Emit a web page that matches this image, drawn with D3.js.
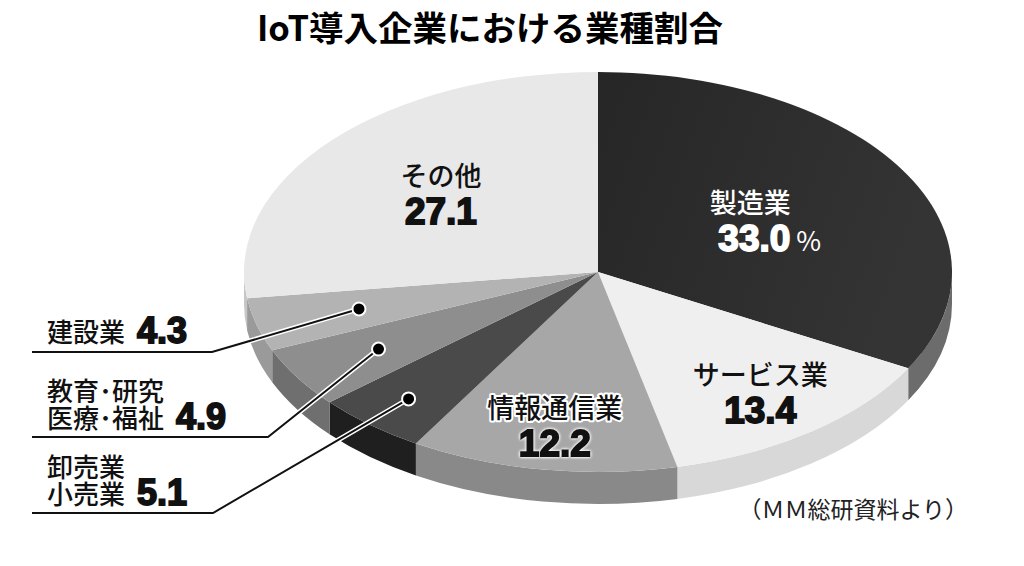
<!DOCTYPE html>
<html>
<head>
<meta charset="utf-8">
<script src="https://cdn.jsdelivr.net/npm/d3@7"></script>
<style>
  body { margin: 0; background: #fff; }
  text { font-family: "Noto Sans CJK JP", sans-serif; }
  .num { font-family: "Liberation Sans", Arial, sans-serif; font-weight: 700; }
</style>
</head>
<body>
<script>
var width = 1024;
var height = 566;

// data
var names = ["製造業", "サービス業", "情報通信業", "卸売業・小売業", "教育・研究・医療・福祉", "建設業", "その他"];
var values = [33.0, 13.4, 12.2, 5.1, 4.9, 4.3, 27.1];
var valueLabels = ["33.0", "13.4", "12.2", "5.1", "4.9", "4.3", "27.1"];
var labelLines = [["製造業"], ["サービス業"], ["情報通信業"], ["卸売業", "小売業"], ["教育･研究", "医療･福祉"], ["建設業"], ["その他"]];

var topColors  = ["#2c2c2c", "#efefef", "#a7a7a7", "#4a4a4a", "#8e8e8e", "#b3b3b3", "#e8e8e8"];
var sideColors = ["#6c6c6c", "#d8d8d8", "#898989", "#1f1f1f", "#6f6f6f", "#9a9a9a", "#c6c6c6"];

var cx = 598, cy = 272, rx = 354, ry = 200, depth = 32;

var svg = d3.select("body").append("svg")
  .attr("width", width)
  .attr("height", height);

var defs = svg.append("defs");
var g0 = defs.append("linearGradient").attr("id", "g0")
  .attr("x1", "0").attr("y1", "0").attr("x2", "1").attr("y2", "0.3");
g0.append("stop").attr("offset", "0").attr("stop-color", "#262626");
g0.append("stop").attr("offset", "1").attr("stop-color", "#343434");

var pie = d3.pie().sort(null).startAngle(0).endAngle(2 * Math.PI);
var arcs = pie(values);

function pt(a, f, dy) {
  f = f == null ? 1 : f;
  return [cx + rx * f * Math.sin(a), cy - ry * f * Math.cos(a) + (dy || 0)];
}

function topPath(d) {
  var p0 = pt(d.startAngle), p1 = pt(d.endAngle);
  var large = d.endAngle - d.startAngle > Math.PI ? 1 : 0;
  return "M" + cx + "," + cy + "L" + p0 + "A" + rx + "," + ry + " 0 " + large + " 1 " + p1 + "Z";
}

function sidePath(d) {
  var s = Math.max(d.startAngle, Math.PI / 2);
  var e = Math.min(d.endAngle, 3 * Math.PI / 2);
  if (e <= s) return null;
  var p0 = pt(s), p1 = pt(e), q0 = pt(s, 1, depth), q1 = pt(e, 1, depth);
  return "M" + p0 + "A" + rx + "," + ry + " 0 0 1 " + p1 +
    "L" + q1 + "A" + rx + "," + ry + " 0 0 0 " + q0 + "Z";
}

// side walls
svg.append("g").selectAll("path")
  .data(arcs.filter(function(d) { return sidePath(d); }))
  .enter().append("path")
  .attr("d", sidePath)
  .attr("fill", function(d) { return sideColors[d.index]; });

// top faces
svg.append("g").selectAll("path")
  .data(arcs)
  .enter().append("path")
  .attr("d", topPath)
  .attr("fill", function(d) { return d.index == 0 ? "url(#g0)" : topColors[d.index]; });

// title
svg.append("text")
  .attr("x", 490).attr("y", 41)
  .attr("text-anchor", "middle")
  .attr("font-size", 34.5).attr("font-weight", 700)
  .text("IoT導入企業における業種割合");

// inside labels
var inside = [
  {i: 0, f: 0.50, color: "#fff", halo: false},
  {i: 1, f: 0.76, color: "#111", halo: false},
  {i: 2, f: 0.78, color: "#111", halo: true},
  {i: 6, f: 0.59, color: "#111", halo: false}
];

inside.forEach(function(o) {
  var d = arcs[o.i];
  var c = pt((d.startAngle + d.endAngle) / 2, o.f);
  var g = svg.append("g").attr("transform", "translate(" + c + ")");
  var t1 = g.append("text")
    .attr("y", -8).attr("text-anchor", "middle")
    .attr("font-size", 27).attr("font-weight", 500)
    .attr("fill", o.color)
    .text(labelLines[o.i][0]);
  var t2 = g.append("text").attr("class", "num")
    .attr("y", 30).attr("text-anchor", "middle")
    .attr("font-size", 37)
    .attr("fill", o.color)
    .attr("stroke", o.color).attr("stroke-width", 1.8)
    .text(valueLabels[o.i]);
  if (o.halo) {
    t1.attr("stroke", "#fff").attr("stroke-width", 4).attr("paint-order", "stroke")
      .attr("stroke-linejoin", "round");
    t2.style("filter", "drop-shadow(0 0 1.5px #fff) drop-shadow(0 0 1px #fff)");
  }
  if (o.i == 0) {
    t2.attr("text-anchor", "end").attr("x", 40);
    g.append("text")
      .attr("x", 46).attr("y", 30)
      .attr("font-size", 27).attr("fill", o.color)
      .attr("font-family", "Liberation Sans, sans-serif")
      .text("%");
  }
});

// outside labels with leader lines
var outside = [
  {i: 5, f: 0.70, lineY: 352, elbow: 212, base: 342},
  {i: 4, f: 0.73, lineY: 437, elbow: 268, base: 401},
  {i: 3, f: 0.83, lineY: 513, elbow: 213, base: 477}
];
var lineGap = 27;

outside.forEach(function(o) {
  var d = arcs[o.i];
  var dot = pt((d.startAngle + d.endAngle) / 2, o.f);
  var pts = [[32, o.lineY], [o.elbow, o.lineY], dot];
  var line = d3.line();
  svg.append("path").attr("d", line(pts))
    .attr("fill", "none").attr("stroke", "#fff").attr("stroke-width", 5);
  svg.append("path").attr("d", line(pts))
    .attr("fill", "none").attr("stroke", "#111").attr("stroke-width", 2);
  svg.append("circle")
    .attr("cx", dot[0]).attr("cy", dot[1]).attr("r", 6.5)
    .attr("fill", "#000").attr("stroke", "#fff").attr("stroke-width", 2);

  var texts = labelLines[o.i];
  var t = svg.append("text")
    .attr("y", o.base)
    .attr("font-size", 26).attr("font-weight", 500)
    .attr("fill", "#111");
  var last;
  texts.forEach(function(s, k) {
    last = t.append("tspan")
      .attr("x", 47).attr("dy", k == 0 ? 0 : lineGap)
      .text(s);
  });
  var w = last.node().getComputedTextLength();
  svg.append("text").attr("class", "num")
    .attr("x", 47 + w + 12).attr("y", o.base + (texts.length - 1) * lineGap + 1)
    .attr("font-size", 36)
    .attr("fill", "#111").attr("stroke", "#111").attr("stroke-width", 1.8)
    .text(valueLabels[o.i]);
});

// source note
svg.append("text")
  .attr("x", 968).attr("y", 518)
  .attr("text-anchor", "end")
  .attr("font-size", 23).attr("fill", "#222")
  .text("（ＭＭ総研資料より）");
</script>
</body>
</html>
